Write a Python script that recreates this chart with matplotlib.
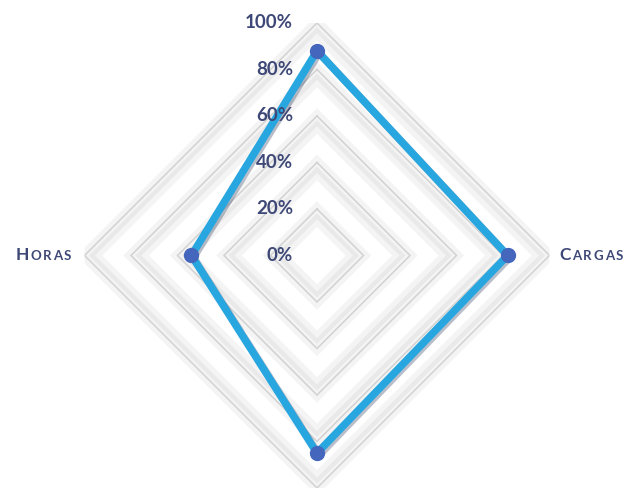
import numpy as np
import matplotlib
matplotlib.use("Agg")
import matplotlib.pyplot as plt
import matplotlib.patheffects as pe

# Data
categories = ["", "Cargas", "", "Horas"]
values = [88, 82, 85, 54]          # percent
ring_levels = [20, 40, 60, 80, 100]
tick_labels = ["0%", "20%", "40%", "60%", "80%", "100%"]
tick_values = [0, 20, 40, 60, 80, 100]

TEXT_COLOR = "#3e4877"
LINE_COLOR = "#27a6df"
MARKER_COLOR = "#4466bd"

fig = plt.figure(figsize=(6.34, 4.90), dpi=100)
fig.patch.set_facecolor("white")
ax = fig.add_axes([0.1333, 0.0041, 0.7334, 0.949], projection="polar")
ax.set_theta_offset(np.pi / 2)
ax.set_theta_direction(-1)
ax.set_ylim(0, 100)
ax.grid(False)
ax.spines["polar"].set_visible(False)
ax.set_xticks([])
ax.set_yticks([])
ax.patch.set_alpha(0)

n = len(categories)
angles = np.linspace(0, 2 * np.pi, n, endpoint=False)
closed_angles = np.append(angles, angles[0])

# Embossed diamond rings: soft shade, light inner edge and a thin outline
for lvl in ring_levels:
    ax.plot(closed_angles, [lvl - 2.2] * (n + 1), color="#f4f4f4", lw=13,
            solid_joinstyle="miter", zorder=1)
    ax.plot(closed_angles, [lvl - 3.2] * (n + 1), color="#e9e9e9", lw=3,
            solid_joinstyle="miter", zorder=1.1)
    ax.plot(closed_angles, [lvl] * (n + 1), color="#d2d2d2", lw=1.1,
            solid_joinstyle="miter", zorder=1.2)

# Data series
vals = values + values[:1]
ax.plot(closed_angles, vals, color=LINE_COLOR, lw=5.4, solid_joinstyle="miter",
        zorder=3,
        path_effects=[pe.SimpleLineShadow(offset=(1.5, -1.5), alpha=0.3,
                                          shadow_color="#1a2a50"),
                      pe.Normal()])
ax.plot(angles, values, linestyle="none", marker="o", markersize=10,
        color=MARKER_COLOR, zorder=4)

# Radial tick labels along the top axis
for v, lab in zip(tick_values, tick_labels):
    ax.annotate(lab, xy=(0, v), xytext=(-24, 0), textcoords="offset pixels",
                ha="right", va="center", fontsize=13.5, fontweight="bold",
                family="Lato", color=TEXT_COLOR, zorder=5)

# Category labels in small caps, spaced letter by letter
fig.canvas.draw()
renderer = fig.canvas.get_renderer()


def small_caps(ang, name, gap, align_right):
    pieces = [(name[0].upper(), 12.5, 0.0)] + [(c.upper(), 9.5, -0.5) for c in name[1:]]
    widths = []
    for txt, fs, _ in pieces:
        t = ax.annotate(txt, xy=(ang, 100), fontsize=fs, fontweight="bold",
                        family="Lato")
        widths.append(t.get_window_extent(renderer).width)
        t.remove()
    spacing = 1.6
    total = sum(widths) + spacing * (len(pieces) - 1)
    x = -gap - total if align_right else gap
    for (txt, fs, dy), w in zip(pieces, widths):
        ax.annotate(txt, xy=(ang, 100), xytext=(x, dy),
                    textcoords="offset pixels", ha="left", va="center",
                    fontsize=fs, fontweight="bold", family="Lato",
                    color=TEXT_COLOR)
        x += w + spacing


for ang, name in zip(angles, categories):
    if not name:
        continue
    if np.isclose(ang, np.pi / 2):
        small_caps(ang, name, 10, align_right=False)
    else:
        small_caps(ang, name, 13, align_right=True)

fig.savefig("out.png", dpi=100)
